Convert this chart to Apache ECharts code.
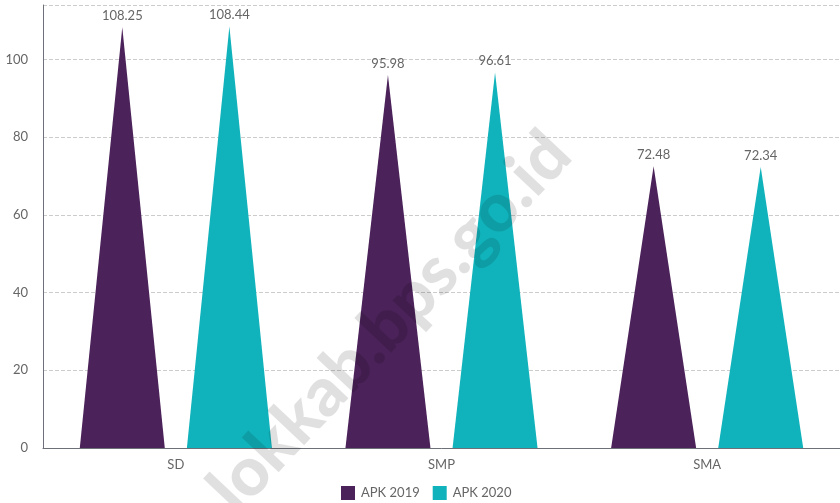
<!DOCTYPE html>
<html>
<head>
<meta charset="utf-8">
<script src="https://cdn.jsdelivr.net/npm/echarts@6/dist/echarts.min.js"></script>
<style>html,body{margin:0;padding:0;background:#fff;}#c{width:840px;height:503px;}</style>
</head>
<body>
<div id="c"></div>
<script>
var categories = ['SD', 'SMP', 'SMA'];
var apk2019 = [108.25, 95.98, 72.48];
var apk2020 = [108.44, 96.61, 72.34];
var seriesNames = ['APK 2019', 'APK 2020'];

var chart = echarts.init(document.getElementById('c'));
var font = 'Lato';
function mk(name, data, color) {
  return {
    name: name,
    type: 'pictorialBar',
    symbol: 'triangle',
    barWidth: 85,
    barGap: '26%',
    itemStyle: { color: color },
    label: { show: true, position: 'top', distance: 5, color: '#666', fontSize: 13, fontFamily: font },
    data: data
  };
}
chart.setOption({
  animation: false,
  color: ['#4B2259', '#10B3BB'],
  textStyle: { fontFamily: font },
  grid: { left: 43, right: -5, top: 5, bottom: 55 },
  legend: {
    bottom: -2, left: 336, itemWidth: 14, itemHeight: 14, itemGap: 13,
    icon: 'rect',
    textStyle: { color: '#666', fontSize: 13, fontFamily: font, padding: [0, 0, 0, 1] },
    data: seriesNames
  },
  xAxis: {
    type: 'category', data: categories,
    axisLine: { lineStyle: { color: '#6E7079' } },
    axisTick: { show: false },
    axisLabel: { color: '#666', fontSize: 13, margin: 10, fontFamily: font }
  },
  yAxis: {
    type: 'value', min: 0, max: 114, interval: 20,
    axisLine: { show: true, lineStyle: { color: '#6E7079' } },
    axisTick: { show: false },
    axisLabel: { color: '#666', fontSize: 13, margin: 15, fontFamily: font, showMaxLabel: false },
    splitLine: { lineStyle: { type: 'dashed', color: '#ccc' } }
  },
  graphic: [{
    type: 'text', z: 100,
    x: 390, y: 322, rotation: Math.PI / 4 + 0.03,
    style: {
      text: 'lokkab.bps.go.id', fontSize: 68, fontWeight: 900, fontFamily: font,
      fill: 'rgba(0,0,0,0.12)', align: 'center', verticalAlign: 'middle'
    }
  }],
  series: [mk(seriesNames[0], apk2019, '#4B2259'), mk(seriesNames[1], apk2020, '#10B3BB')]
});
</script>
</body>
</html>
